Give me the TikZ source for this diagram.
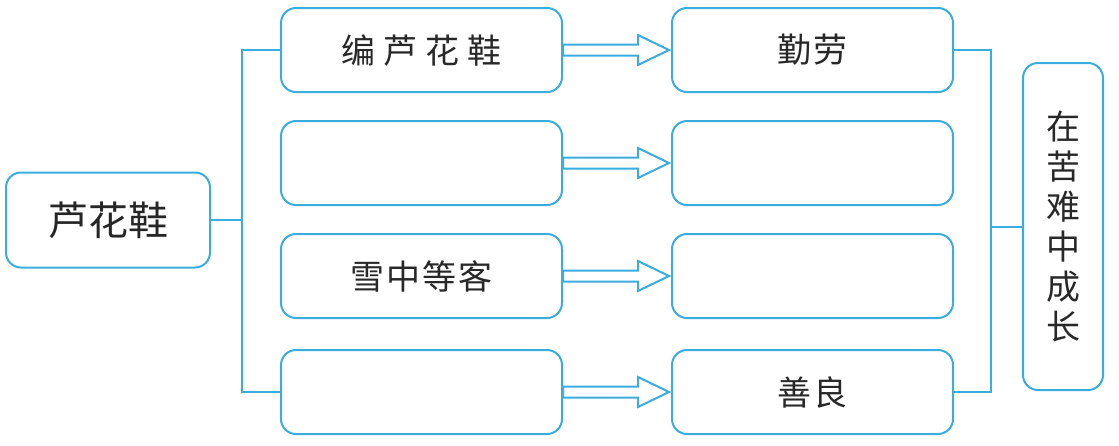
\documentclass[tikz,border=0pt]{standalone}
\usepackage{fontspec}
\newfontfamily\cjk{Noto Sans CJK SC}
\usetikzlibrary{calc}
\definecolor{lblue}{RGB}{58,172,222}
\definecolor{txt}{RGB}{40,40,40}
\begin{document}
\begin{tikzpicture}[x=1pt,y=-1pt,
  box/.style={draw=lblue, line width=2pt, rounded corners=15pt, minimum width=281pt, minimum height=84pt, inner sep=0pt, font=\cjk\fontsize{34}{40}\selectfont, text=txt},
  link/.style={draw=lblue, line width=2pt},
  harrow/.style={draw=lblue, line width=2pt, fill=white, line join=miter}]
\useasboundingbox (0,0) rectangle (1119,445);

\node[box, minimum width=204pt, minimum height=95pt, font=\cjk\fontsize{40}{48}\selectfont, text=black!85] (L) at (108,220) {芦花鞋};

\node[box] (b1) at (421.5,50) {编\hspace{8pt}芦\hspace{8pt}花\hspace{8pt}鞋};
\node[box] (b2) at (421.5,163) {};
\node[box] (b3) at (421.5,276) {雪\hspace{2pt}中\hspace{2pt}等\hspace{2pt}客};
\node[box] (b4) at (421.5,392) {};

\node[box] (r1) at (812.5,50) {勤\hspace{2pt}劳};
\node[box] (r2) at (812.5,163) {};
\node[box] (r3) at (812.5,276) {};
\node[box] (r4) at (812.5,392) {善\hspace{2pt}良};

\node[box, minimum width=80pt, minimum height=327pt, align=center, font=\cjk\fontsize{34}{40}\selectfont] (R) at (1063,226.5) {在\\苦\\难\\中\\成\\长};

% left bracket
\coordinate (lj) at (243,220);
\draw[link] (b1.west) -- ++(-38,0) |- (b4.west);
\draw[link] (L.east) -- (lj);

% right bracket
\coordinate (rj) at (990,226.5);
\draw[link] (r1.east) -- ++(37,0) |- (r4.east);
\draw[link] (R.west) -- (rj);

% hollow arrows
\foreach \i in {1,2,3,4}{
  \draw[harrow] ($(b\i.east)+(0,-5.5)$) -- ($(r\i.west)+(-33,-5.5)$) -- ($(r\i.west)+(-33,-15)$) -- ($(r\i.west)+(-2,0)$) -- ($(r\i.west)+(-33,15)$) -- ($(r\i.west)+(-33,5.5)$) -- ($(b\i.east)+(0,5.5)$) -- cycle;
}
\end{tikzpicture}
\end{document}
